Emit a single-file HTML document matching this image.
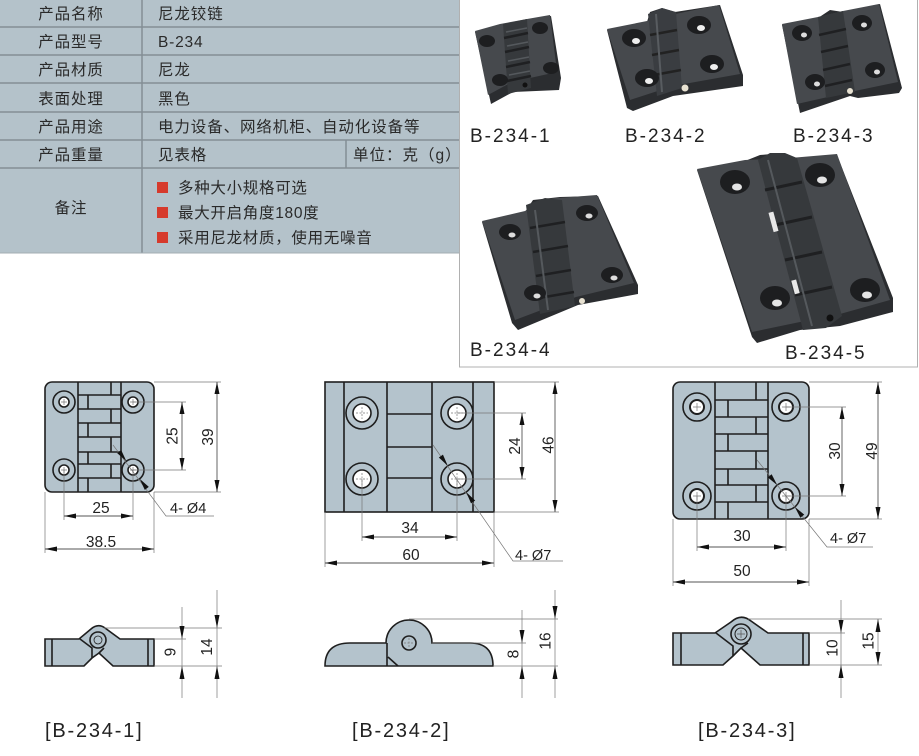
<!DOCTYPE html>
<html><head><meta charset="utf-8">
<style>
html,body{margin:0;padding:0;background:#fff;width:919px;height:756px;overflow:hidden}
svg{display:block}
text{font-family:"Liberation Sans","Noto Sans CJK SC",sans-serif}
</style></head>
<body>
<svg width="919" height="756" viewBox="0 0 919 756" xmlns="http://www.w3.org/2000/svg">
<defs>
<marker id="ar" viewBox="0 0 12 5" refX="12" refY="2.5" markerWidth="12" markerHeight="5" orient="auto-start-reverse" markerUnits="userSpaceOnUse"><path d="M0,0L12,2.5L0,5z" fill="#111"/></marker>
</defs>

<!-- TABLE -->
<rect x="0" y="0" width="459" height="253" fill="#b4c2ca"/>
<g stroke="#838e95" stroke-width="1.5">
<line x1="0" y1="27" x2="459" y2="27"/>
<line x1="0" y1="55" x2="459" y2="55"/>
<line x1="0" y1="83" x2="459" y2="83"/>
<line x1="0" y1="112" x2="459" y2="112"/>
<line x1="0" y1="140" x2="459" y2="140"/>
<line x1="0" y1="168" x2="459" y2="168"/>
<line x1="142" y1="0" x2="142" y2="253"/>
<line x1="346" y1="140" x2="346" y2="168"/>
</g>
<line x1="0" y1="253" x2="459" y2="253" stroke="#a3adb3" stroke-width="1"/>
<g font-size="15.5" fill="#2a2a2a" letter-spacing="0.9">
<text x="71" y="19" text-anchor="middle">产品名称</text>
<text x="71" y="47" text-anchor="middle">产品型号</text>
<text x="71" y="75" text-anchor="middle">产品材质</text>
<text x="71" y="104" text-anchor="middle">表面处理</text>
<text x="71" y="132" text-anchor="middle">产品用途</text>
<text x="71" y="160" text-anchor="middle">产品重量</text>
<text x="71" y="213" text-anchor="middle">备注</text>
<text x="158" y="19">尼龙铰链</text>
<text x="158" y="47" letter-spacing="0.8">B-234</text>
<text x="158" y="75">尼龙</text>
<text x="158" y="104">黑色</text>
<text x="158" y="132">电力设备、网络机柜、自动化设备等</text>
<text x="158" y="160">见表格</text>
<text x="353" y="160" letter-spacing="1">单位：克（g）</text>
</g>
<g fill="#d63a2c">
<rect x="157" y="182" width="11" height="11"/>
<rect x="157" y="207" width="11" height="11"/>
<rect x="157" y="232" width="11" height="11"/>
</g>
<g font-size="15.5" fill="#2a2a2a" letter-spacing="0.7">
<text x="178" y="193">多种大小规格可选</text>
<text x="178" y="218">最大开启角度180度</text>
<text x="178" y="243">采用尼龙材质，使用无噪音</text>
</g>

<!-- PHOTO BOX -->
<rect x="459.5" y="-1" width="458" height="368" fill="#fff" stroke="#b0b0b0" stroke-width="1"/>

<!-- Photo 1 -->
<g>
<polygon points="475,32 500,25 527,20 551,16 561,78 559,90 513,92 491,104" fill="#2b2d30"/>
<polygon points="475,31 500,24 527,19 550,15 557,72 512,82 488,95" fill="#46494d"/>
<polygon points="503,24 527,19 531,88 508,94" fill="#36393c"/>
<path d="M504,38 L528,33 M505,52 L529,47 M506,67 L530,62 M507,81 L531,76" stroke="#1f2022" stroke-width="2.5"/>
<path d="M506,32 L527,28 M507,46 L528,42 M508,61 L529,57 M509,75 L530,71" stroke="#55595d" stroke-width="1.5"/>
<ellipse cx="487" cy="41" rx="8" ry="6" fill="#1d1e20"/>
<ellipse cx="540" cy="28" rx="8" ry="6" fill="#1d1e20"/>
<ellipse cx="500" cy="80" rx="8" ry="6" fill="#1d1e20"/>
<ellipse cx="551" cy="68" rx="8" ry="6" fill="#1d1e20"/>
<circle cx="525" cy="85" r="2.5" fill="#111"/>
</g>

<!-- Photo 2 -->
<g>
<polygon points="607,30 647,22 650,12 662,8 675,12 720,5 743,75 743,86 673,96 633,111 627,108" fill="#2b2d30"/>
<polygon points="607,29 647,21 675,14 719,5 740,74 673,86 630,100" fill="#46494d"/>
<polygon points="648,14 662,8 676,12 682,88 657,96" fill="#3a3d41"/>
<path d="M650,35 L677,30 M652,55 L679,50 M654,75 L681,70" stroke="#222" stroke-width="2.5"/>
<path d="M656,14 L662,92" stroke="#585c60" stroke-width="2"/>
<ellipse cx="634" cy="38" rx="12" ry="9" fill="#1d1e20"/>
<ellipse cx="699" cy="25" rx="12" ry="9" fill="#1d1e20"/>
<ellipse cx="647" cy="78" rx="12" ry="9" fill="#1d1e20"/>
<ellipse cx="712" cy="64" rx="12" ry="9" fill="#1d1e20"/>
<ellipse cx="636" cy="41" rx="4" ry="3" fill="#eee"/>
<ellipse cx="701" cy="28" rx="4" ry="3" fill="#eee"/>
<ellipse cx="649" cy="81" rx="4" ry="3" fill="#eee"/>
<ellipse cx="714" cy="67" rx="4" ry="3" fill="#eee"/>
<circle cx="685" cy="88" r="3.5" fill="#e8e2d2"/>
</g>

<!-- Photo 3 -->
<g>
<polygon points="782,25 818,18 830,10 843,12 880,4 902,88 899,93 858,98 850,96 800,113" fill="#2b2d30"/>
<polygon points="782,24 818,17 843,11 879,4 898,82 850,92 797,104" fill="#46494d"/>
<polygon points="818,17 843,11 855,92 826,98" fill="#36393c"/>
<path d="M819,35 L846,29 M821,52 L848,46 M823,70 L850,64 M825,86 L852,80" stroke="#1f2022" stroke-width="2.5"/>
<ellipse cx="802" cy="33" rx="10" ry="8" fill="#1d1e20"/>
<ellipse cx="862" cy="23" rx="10" ry="8" fill="#1d1e20"/>
<ellipse cx="815" cy="82" rx="10" ry="8" fill="#1d1e20"/>
<ellipse cx="875" cy="70" rx="10" ry="8" fill="#1d1e20"/>
<ellipse cx="804" cy="35" rx="3" ry="2.5" fill="#ddd"/>
<ellipse cx="864" cy="25" rx="3" ry="2.5" fill="#ddd"/>
<ellipse cx="817" cy="84" rx="3" ry="2.5" fill="#ddd"/>
<ellipse cx="877" cy="72" rx="3" ry="2.5" fill="#ddd"/>
<circle cx="850" cy="91" r="3" fill="#e8e2d2"/>
</g>

<!-- Photo 4 -->
<g>
<polygon points="482,222 525,212 533,200 560,197 598,196 638,285 638,294 578,305 518,330 512,323" fill="#2b2d30"/>
<polygon points="482,221 525,211 545,199 597,195 634,283 576,297 515,320" fill="#46494d"/>
<polygon points="526,205 545,198 562,200 575,306 540,314" fill="#36393c"/>
<path d="M530,228 L565,222 M533,252 L568,246 M536,276 L571,270 M539,298 L574,292" stroke="#1f2022" stroke-width="2.5"/>
<path d="M535,210 L548,310" stroke="#55595d" stroke-width="2"/>
<ellipse cx="510" cy="232" rx="11" ry="8" fill="#1d1e20"/>
<ellipse cx="587" cy="213" rx="11" ry="8" fill="#1d1e20"/>
<ellipse cx="535" cy="293" rx="11" ry="8" fill="#1d1e20"/>
<ellipse cx="612" cy="275" rx="11" ry="8" fill="#1d1e20"/>
<ellipse cx="512" cy="235" rx="3.5" ry="2.5" fill="#ddd"/>
<ellipse cx="589" cy="216" rx="3.5" ry="2.5" fill="#ddd"/>
<ellipse cx="537" cy="296" rx="3.5" ry="2.5" fill="#ddd"/>
<ellipse cx="614" cy="278" rx="3.5" ry="2.5" fill="#ddd"/>
<circle cx="582" cy="301" r="3" fill="#e8e2d2"/>
</g>

<!-- Photo 5 -->
<g>
<polygon points="697,170 745,161 760,155 782,153 790,160 837,155 893,298 893,312 840,326 800,330 757,343 752,337" fill="#2b2d30"/>
<polygon points="697,169 745,160 790,158 837,154 890,300 840,314 800,322 752,332" fill="#46494d"/>
<polygon points="758,160 770,153 785,153 797,158 842,316 826,328 803,330" fill="#36393c"/>
<path d="M765,190 L802,182 M775,225 L812,217 M785,260 L822,252 M795,295 L832,287" stroke="#1f2022" stroke-width="3"/>
<path d="M768,160 L812,326" stroke="#55595d" stroke-width="2"/>
<rect x="771" y="212" width="5" height="20" fill="#e8e8e8" transform="rotate(-15 773 222)"/>
<rect x="793" y="280" width="5" height="14" fill="#e8e8e8" transform="rotate(-15 795 287)"/>
<ellipse cx="735" cy="182" rx="15" ry="12" fill="#1d1e20"/>
<ellipse cx="820" cy="175" rx="15" ry="12" fill="#1d1e20"/>
<ellipse cx="775" cy="298" rx="15" ry="12" fill="#1d1e20"/>
<ellipse cx="865" cy="290" rx="15" ry="12" fill="#1d1e20"/>
<ellipse cx="737" cy="187" rx="5" ry="3.5" fill="#e5e5e5"/>
<ellipse cx="822" cy="180" rx="5" ry="3.5" fill="#e5e5e5"/>
<ellipse cx="777" cy="303" rx="5" ry="3.5" fill="#e5e5e5"/>
<ellipse cx="867" cy="295" rx="5" ry="3.5" fill="#e5e5e5"/>
<circle cx="830" cy="318" r="3.5" fill="#111"/>
</g>

<g font-size="19" fill="#222" letter-spacing="2">
<text x="470" y="142">B-234-1</text>
<text x="625" y="142">B-234-2</text>
<text x="793" y="142">B-234-3</text>
<text x="470" y="356">B-234-4</text>
<text x="785" y="359">B-234-5</text>
</g>

<!-- ============ DRAWING 1 ============ -->
<g stroke="#1e1e1e" stroke-width="1.6" fill="none">
<rect x="45" y="382" width="109" height="110" rx="7" fill="#b4c3cc"/>
<line x1="78" y1="382" x2="78" y2="492"/>
<line x1="121" y1="382" x2="121" y2="492"/>
<path d="M78,395H121 M78,409H121 M78,423H121 M78,437H121 M78,452H121 M78,464H121 M78,478H121"/>
<path d="M111,382V395 M88,395V409 M111,409V423 M88,423V437 M111,437V452 M88,452V464 M111,464V478 M88,478V492"/>
<circle cx="64" cy="402" r="11"/><circle cx="133" cy="402" r="11"/>
<circle cx="64" cy="470" r="11"/><circle cx="133" cy="470" r="11"/>
<circle cx="64" cy="402" r="5" fill="#fff"/><circle cx="133" cy="402" r="5" fill="#fff"/>
<circle cx="64" cy="470" r="5" fill="#fff"/><circle cx="133" cy="470" r="5" fill="#fff"/>
</g>
<g stroke="#777" stroke-width="0.7" fill="none">
<path d="M61,402H67M64,399V405 M130,402H136M133,399V405 M61,470H67M64,467V473 M130,470H136M133,467V473"/>
<path d="M133,402H186 M133,470H186 M154,382H221 M154,492H221 M64,470V520 M133,470V520 M45,492V553 M154,492V553"/>
<path d="M113,445L166,516H214"/>
</g>
<g stroke="#555" stroke-width="0.9" marker-start="url(#ar)" marker-end="url(#ar)">
<line x1="182" y1="402" x2="182" y2="470"/>
<line x1="217" y1="382" x2="217" y2="492"/>
<line x1="64" y1="516" x2="133" y2="516"/>
<line x1="45" y1="549" x2="154" y2="549"/>
</g>
<g fill="#111">
<polygon points="126.4,461.2 121.2,450.1 117.2,453.1"/>
<polygon points="139.6,478.8 148.8,486.9 144.8,489.9"/>
</g>

<!-- ============ DRAWING 2 ============ -->
<g stroke="#1e1e1e" stroke-width="1.6" fill="none">
<rect x="325" y="382" width="169" height="130" fill="#b4c3cc"/>
<path d="M344,382V512 M387,382V512 M432,382V512 M473,382V512"/>
<path d="M387,414H432 M387,447H432 M387,478H432"/>
<circle cx="362" cy="413" r="16"/><circle cx="457" cy="413" r="16"/>
<circle cx="362" cy="479" r="16"/><circle cx="457" cy="479" r="16"/>
<circle cx="362" cy="413" r="9" fill="#fff"/><circle cx="457" cy="413" r="9" fill="#fff"/>
<circle cx="362" cy="479" r="9" fill="#fff"/><circle cx="457" cy="479" r="9" fill="#fff"/>
</g>
<g stroke="#777" stroke-width="0.7" fill="none">
<path d="M356,413H368M362,407V419 M451,413H463M457,407V419 M356,479H368M362,473V485 M451,479H463M457,473V485" stroke-dasharray="2,1.5"/>
<path d="M457,413H526 M457,479H526 M494,382H559 M494,512H559 M362,479V541 M457,479V541 M325,512V567 M494,512V567"/>
<path d="M433,445L513,561H563"/>
</g>
<g stroke="#555" stroke-width="0.9" marker-start="url(#ar)" marker-end="url(#ar)">
<line x1="522" y1="413" x2="522" y2="479"/>
<line x1="555" y1="382" x2="555" y2="512"/>
<line x1="362" y1="537" x2="457" y2="537"/>
<line x1="325" y1="563" x2="494" y2="563"/>
</g>
<g fill="#111">
<polygon points="447.8,465.9 442.95,454.67 438.85,457.53"/>
<polygon points="466.2,492.1 475.15,500.47 471.05,503.33"/>
</g>

<!-- ============ DRAWING 3 ============ -->
<g stroke="#1e1e1e" stroke-width="1.6" fill="none">
<rect x="673" y="382" width="136" height="137" rx="7" fill="#b4c3cc"/>
<path d="M715,382V519 M768,382V519"/>
<path d="M715,400H768 M715,417H768 M715,434H768 M715,451H768 M715,469H768 M715,485H768 M715,502H768"/>
<path d="M756,382V400 M728,400V417 M756,417V434 M728,434V451 M756,451V469 M728,469V485 M756,485V502 M728,502V519"/>
<circle cx="697" cy="407" r="14"/><circle cx="786" cy="407" r="14"/>
<circle cx="697" cy="496" r="14"/><circle cx="786" cy="496" r="14"/>
<circle cx="697" cy="407" r="7" fill="#fff" stroke-width="2"/><circle cx="786" cy="407" r="7" fill="#fff" stroke-width="2"/>
<circle cx="697" cy="496" r="7" fill="#fff" stroke-width="2"/><circle cx="786" cy="496" r="7" fill="#fff" stroke-width="2"/>
</g>
<g stroke="#777" stroke-width="0.7" fill="none">
<path d="M693,407H701M697,403V411 M782,407H790M786,403V411 M693,496H701M697,492V500 M782,496H790M786,492V500"/>
<path d="M786,407H846 M786,496H846 M809,382H882 M809,519H882 M697,496V551 M786,496V551 M673,519V586 M809,519V586"/>
<path d="M757,460L827,547H873"/>
</g>
<g stroke="#555" stroke-width="0.9" marker-start="url(#ar)" marker-end="url(#ar)">
<line x1="842" y1="407" x2="842" y2="496"/>
<line x1="878" y1="382" x2="878" y2="519"/>
<line x1="697" y1="547" x2="786" y2="547"/>
<line x1="673" y1="582" x2="809" y2="582"/>
</g>
<g fill="#111">
<polygon points="777.2,485.1 771.65,474.23 767.75,477.37"/>
<polygon points="794.8,506.9 804.25,514.63 800.35,517.77"/>
</g>

<!-- dimension texts -->
<g font-size="15.5" fill="#222">
<text x="101" y="513" text-anchor="middle">25</text>
<text x="101" y="547" text-anchor="middle">38.5</text>
<text transform="translate(177.5,436) rotate(-90)" text-anchor="middle">25</text>
<text transform="translate(213,437) rotate(-90)" text-anchor="middle">39</text>
<text x="410" y="533" text-anchor="middle">34</text>
<text x="411" y="560" text-anchor="middle">60</text>
<text transform="translate(520,446) rotate(-90)" text-anchor="middle">24</text>
<text transform="translate(553.5,445) rotate(-90)" text-anchor="middle">46</text>
<text x="742" y="541" text-anchor="middle">30</text>
<text x="742" y="576" text-anchor="middle">50</text>
<text transform="translate(840,451) rotate(-90)" text-anchor="middle">30</text>
<text transform="translate(877,451) rotate(-90)" text-anchor="middle">49</text>
<text transform="translate(175.5,652) rotate(-90)" text-anchor="middle">9</text>
<text transform="translate(212,647) rotate(-90)" text-anchor="middle">14</text>
<text transform="translate(518.5,654) rotate(-90)" text-anchor="middle">8</text>
<text transform="translate(550.5,641) rotate(-90)" text-anchor="middle">16</text>
<text transform="translate(837.5,648) rotate(-90)" text-anchor="middle">10</text>
<text transform="translate(873.5,641) rotate(-90)" text-anchor="middle">15</text>
</g>
<g font-size="14.5" fill="#222">
<text x="170" y="513">4- Ø4</text>
<text x="515" y="560">4- Ø7</text>
<text x="830" y="543">4- Ø7</text>
</g>

<!-- ============ SIDE 1 ============ -->
<g stroke="#1e1e1e" stroke-width="1.6" fill="#b4c3cc">
<path d="M45,639 L79,639 L91,629 Q98,623 105,628 L120,639 L154,639 L154,666 L113,666 L99,653 L92,658 L84,666 L45,666 Z"/>
<path d="M52,639V666 M148,639V666 M80,639 L92,648 L92,658 M104,648 L99,653" fill="none"/>
<circle cx="98" cy="640" r="8"/>
<circle cx="98" cy="640" r="4" fill="none" stroke-width="0.8"/>
</g>
<g stroke="#777" stroke-width="0.7" fill="none">
<path d="M104,628H222 M154,639H186 M154,666H222 M182,607V698 M217,590V698"/>
</g>
<g fill="#111">
<polygon points="182,639 179.5,626 184.5,626"/>
<polygon points="182,666 179.5,679 184.5,679"/>
<polygon points="217,628 214.5,615 219.5,615"/>
<polygon points="217,666 214.5,679 219.5,679"/>
</g>

<!-- ============ SIDE 2 ============ -->
<g stroke="#1e1e1e" stroke-width="1.6" fill="#b4c3cc">
<path d="M325,666 Q325,643 350,643 L386,643 A23,23 0 1 1 432,643 L470,643 Q493,643 493,666 Z"/>
<path d="M387,643V666 M398,666 L388,657" fill="none"/>
<circle cx="409" cy="643" r="7" fill="#b4c3cc"/>
</g>
<path d="M404,643H414M409,638V648" stroke="#777" stroke-width="0.7" stroke-dasharray="2,1.5"/>
<g stroke="#777" stroke-width="0.7" fill="none">
<path d="M409,619H558 M432,643H526 M493,666H558 M522,610V698 M555,590V698"/>
</g>
<g fill="#111">
<polygon points="522,643 519.5,630 524.5,630"/>
<polygon points="522,666 519.5,679 524.5,679"/>
<polygon points="555,619 552.5,606 557.5,606"/>
<polygon points="555,666 552.5,679 557.5,679"/>
</g>

<!-- ============ SIDE 3 ============ -->
<g stroke="#1e1e1e" stroke-width="1.6" fill="#b4c3cc">
<path d="M673,633 L715,633 L731,622 Q741,613 751,621 L768,633 L809,633 L809,665 L760,665 L741,648 L733,656 L723,665 L673,665 Z"/>
<path d="M681,633V665 M803,633V665 M716,633 L733,646 L733,656 M748,643 L741,648" fill="none"/>
<circle cx="741" cy="634" r="10"/>
<circle cx="741" cy="634" r="6" fill="none" stroke-width="1"/>
</g>
<path d="M737,634H745M741,630V638" stroke="#555" stroke-width="0.7"/>
<g stroke="#777" stroke-width="0.7" fill="none">
<path d="M748,619H882 M809,633H845 M809,665H882 M841,600V698 M878,619V665"/>
</g>
<g fill="#111">
<polygon points="841,633 838.5,620 843.5,620"/>
<polygon points="841,665 838.5,678 843.5,678"/>
<polygon points="878,619 875.5,632 880.5,632"/>
<polygon points="878,665 875.5,652 880.5,652"/>
</g>

<!-- bottom labels -->
<g font-size="20" fill="#222" letter-spacing="1.8">
<text x="45" y="737">[B-234-1]</text>
<text x="352" y="737">[B-234-2]</text>
<text x="698" y="737">[B-234-3]</text>
</g>
</svg>
</body></html>
